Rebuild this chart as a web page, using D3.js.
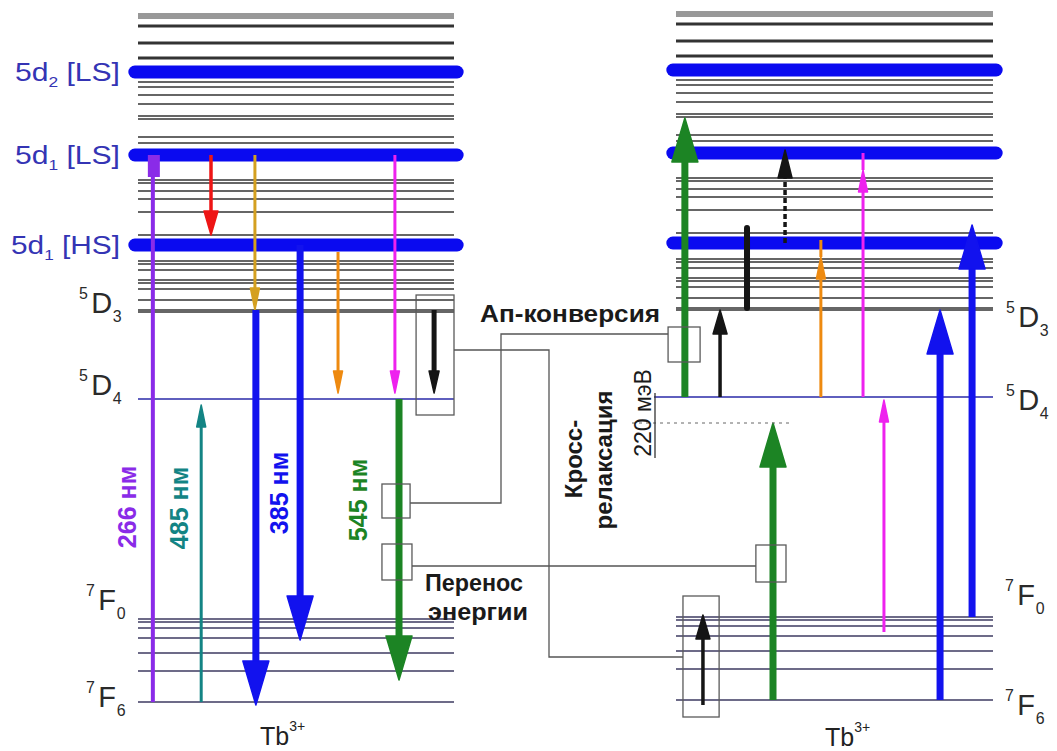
<!DOCTYPE html>
<html><head><meta charset="utf-8">
<script src="https://cdn.jsdelivr.net/npm/d3@7"></script>
<style>body{margin:0;background:#fff}svg{display:block}text{font-family:"Liberation Sans",Arial,sans-serif}</style>
</head><body><svg id="c" width="1057" height="751"></svg>
<script>
// ---------- data ----------
const levelEnergies = [688,686,684,676,659,644,620,615,607,598,586,583,565,559,522,519,511,503,490,467,441,438,432,422,419,413,402,392,390,303,83,80,74,64,49,31,0];
const bandEnergies = [630,547,457];
const bandNames = [["5d","2"," [LS]"],["5d","1"," [LS]"],["5d","1"," [HS]"]];
const termMult = ["5","5","7","7"];
const termL = ["D","D","F","F"];
const termJ = ["3","4","0","6"];
const termEnergies = [390,303,83,0];
const ionLabel = ["Tb","3+"];
// transitions: slot (0..100 across a panel), from / to energies, hue, kind
const leftTransitions = [
  {slot:4.7, from:547, to:0,   hue:"purple",  kind:"line"},
  {slot:23.1,from:547, to:467, hue:"red",     kind:"mid"},
  {slot:37,  from:547, to:392, hue:"gold",    kind:"bulb"},
  {slot:37.3,from:392, to:-3,  hue:"blue",    kind:"thick"},
  {slot:51.3,from:457, to:62,  hue:"blue",    kind:"thick"},
  {slot:63.3,from:450, to:309, hue:"orange",  kind:"bulb"},
  {slot:81.3,from:547, to:309, hue:"magenta", kind:"bulb"},
  {slot:82.6,from:303, to:22,  hue:"green",   kind:"thick"},
  {slot:20,  from:0,   to:297, hue:"teal",    kind:"bulb"},
  {slot:93.7,from:392, to:309, hue:"black",   kind:"bulbw"}
];
const rightTransitions = [
  {slot:2.8, from:303, to:582, hue:"green",   kind:"thick"},
  {slot:13.9,from:303, to:390, hue:"black",   kind:"mid"},
  {slot:22.4,from:392, to:472, hue:"black",   kind:"stub"},
  {slot:34.4,from:457, to:550, hue:"black",   kind:"dashed"},
  {slot:45.7,from:303, to:443, hue:"orange",  kind:"bulb", reach:460},
  {slot:59,  from:303, to:530, hue:"magenta", kind:"bulb", reach:547},
  {slot:65.6,from:68,  to:300, hue:"magenta", kind:"bulb"},
  {slot:30.6,from:0,   to:277, hue:"green",   kind:"thick"},
  {slot:83.3,from:0,   to:390, hue:"blue",    kind:"thick"},
  {slot:93.4,from:83,  to:475, hue:"blue",    kind:"thick"},
  {slot:8.5, from:-5,  to:85,  hue:"black",   kind:"mid"}
];
const wavelengthLabels = ["266 нм","485 нм","385 нм","545 нм"];
const wavelengthHues = ["purple","teal","blue","green"];
const crossRelaxGap = [303,277];
const gapLabel = "220 мэВ";
// boxes: panel, slot range, energy range
const boxes = [
  {panel:"L", s0:88,   s1:100,  eTop:407, eBot:287},
  {panel:"L", s0:77.2, s1:86.1, eTop:218, eBot:184},
  {panel:"L", s0:77.2, s1:86.7, eTop:158, eBot:122},
  {panel:"R", s0:-2.5, s1:7.6,  eTop:373, eBot:338},
  {panel:"R", s0:25.2, s1:34.7, eTop:155, eBot:118},
  {panel:"R", s0:2.2,  s1:13.6, eTop:104, eBot:-17}
];
const textUp = "Ап-конверсия";
const textTransfer = ["Перенос","энергии"];
const textCross = ["Кросс-","релаксация"];

// ---------- styles ----------
const palette = {purple:"#8a2be8", red:"#ee1515", gold:"#d4a020", orange:"#ee8a10", magenta:"#ee22ee",
  teal:"#138484", blue:"#1212ee", green:"#1c8424", black:"#151515"};
const kinds = {
  line:{w:4, hw:0, hl:0}, mid:{w:3.5, hw:14, hl:24}, bulb:{w:3, hw:9, hl:22}, bulbw:{w:5, hw:10, hl:22},
  thick:{w:7, hw:26, hl:44}, stub:{w:6, hw:0, hl:0}, dashed:{w:3.5, hw:14, hl:28, dash:"5,3"}
};

const svg = d3.select("#c");
const yL = d3.scaleLinear().domain([0,700]).range([702,2]);
const yR = d3.scaleLinear().domain([0,700]).range([700,0]);
const xL = d3.scaleLinear().domain([0,100]).range([138,454]);
const xR = d3.scaleLinear().domain([0,100]).range([676,993]);
const panels = {L:{x:xL,y:yL}, R:{x:xR,y:yR}};

function drawLevels(p) {
  const g = svg.append("g");
  g.selectAll("line").data(levelEnergies).join("line")
    .attr("x1", d => d===303 && p===panels.R ? 654 : p.x(0))
    .attr("x2", p.x(100))
    .attr("y1", d => p.y(d)).attr("y2", d => p.y(d))
    .attr("stroke", d => d===303 ? "#2a2aa8" : (d<100 ? "#3c3a60" : "#333"))
    .attr("stroke-width", d => (d>=644 && d<=676) ? 3 : (d>680 ? 1 : 1.3));
  g.selectAll("line.band").data(bandEnergies).join("line").attr("class","band")
    .attr("x1", p.x(-1)).attr("x2", p.x(101))
    .attr("y1", d => p.y(d)).attr("y2", d => p.y(d))
    .attr("stroke", "#0a0af0").attr("stroke-width", 13).attr("stroke-linecap","round");
}
drawLevels(panels.L);
drawLevels(panels.R);

function drawTransitions(p, data) {
  const g = svg.append("g");
  data.forEach(t => {
    const k = kinds[t.kind], c = palette[t.hue];
    const x = p.x(t.slot), y1 = p.y(t.from), y2 = p.y(t.to);
    const dir = Math.sign(y2 - y1);
    const yb = y2 - dir*k.hl;
    if (t.reach !== undefined) {
      g.append("line").attr("x1",x).attr("x2",x).attr("y1",y2).attr("y2",p.y(t.reach))
        .attr("stroke",c).attr("stroke-width",k.w);
    }
    g.append("line").attr("x1",x).attr("x2",x).attr("y1",y1).attr("y2", k.hl ? yb + dir*2 : y2)
      .attr("stroke",c).attr("stroke-width",k.w)
      .attr("stroke-linecap", t.kind==="stub" ? "round" : "butt")
      .attr("stroke-dasharray", k.dash || null);
    if (k.hl) {
      g.append("path").attr("d", `M${x-k.hw/2},${yb}L${x+k.hw/2},${yb}L${x},${y2}Z`)
        .attr("fill",c).attr("stroke",c).attr("stroke-width",1.5).attr("stroke-linejoin","round");
    }
    if (t.kind==="line") {
      g.append("rect").attr("x",x-5).attr("y",y1).attr("width",12).attr("height",22).attr("fill",c);
    }
  });
}
drawTransitions(panels.L, leftTransitions);
drawTransitions(panels.R, rightTransitions);

// boxes
const boxRects = boxes.map(b => {
  const p = panels[b.panel];
  return {x0:p.x(b.s0), x1:p.x(b.s1), y0:p.y(b.eTop), y1:p.y(b.eBot)};
});
svg.append("g").selectAll("rect").data(boxRects).join("rect")
  .attr("x",d=>d.x0).attr("y",d=>d.y0).attr("width",d=>d.x1-d.x0).attr("height",d=>d.y1-d.y0)
  .attr("fill","none").attr("stroke","#5a5a5a").attr("stroke-width",1.3);

// connectors
const B = boxRects;
const conn = svg.append("g").attr("fill","none").attr("stroke","#555").attr("stroke-width",1.3);
conn.append("path").attr("d",`M${B[0].x1},350H549V657H${B[5].x0}`);
conn.append("path").attr("d",`M${B[1].x1},503H501V334H${B[3].x0}`);
conn.append("path").attr("d",`M${B[2].x1},566H${B[4].x0}`);

// cross-relaxation gap
svg.append("line").attr("x1",632).attr("x2",790)
  .attr("y1",yR(crossRelaxGap[1])).attr("y2",yR(crossRelaxGap[1]))
  .attr("stroke","#666").attr("stroke-width",1).attr("stroke-dasharray","3,4");
svg.append("line").attr("x1",655).attr("x2",655).attr("y1",yR(crossRelaxGap[0])-4).attr("y2",458)
  .attr("stroke","#333").attr("stroke-width",1.3);

// band labels
const bandLabelX = [15,15,11];
const bandLabelLen = [105,105,109];
bandNames.forEach((n,i) => {
  const t = svg.append("text").attr("x",bandLabelX[i]).attr("y",yL(bandEnergies[i])+9)
    .attr("fill","#3434b4").attr("font-size",26)
    .attr("textLength",bandLabelLen[i]).attr("lengthAdjust","spacingAndGlyphs");
  t.append("tspan").text(n[0]);
  t.append("tspan").attr("font-size",15).attr("dy",6).text(n[1]);
  t.append("tspan").attr("dy",-6).text(n[2]);
});

// term labels
function term(xs, baseline, i, size) {
  const g = svg.append("g").attr("fill","#2a2a2a");
  g.append("text").attr("x",xs).attr("y",baseline-size*0.5).attr("font-size",size*0.55).text(termMult[i]);
  g.append("text").attr("x",xs+size*0.42).attr("y",baseline).attr("font-size",size).text(termL[i]);
  g.append("text").attr("x",xs+size*0.42+(termL[i]==="D"?size*0.74:size*0.64)).attr("y",baseline+size*0.3)
    .attr("font-size",size*0.55).text(termJ[i]);
}
const leftOff = [1,-4,-9,5], rightOff = [17,13,-12,15];
termEnergies.forEach((e,i) => {
  term(i<2 ? 79 : 86, yL(e)+leftOff[i], i, 29);
  term(i<2 ? 1006 : 1005, yR(e)+rightOff[i], i, 29);
});

// ion labels
[[260,745],[825,746]].forEach(([x,y]) => {
  const t = svg.append("text").attr("x",x).attr("y",y).attr("font-size",25).attr("fill","#222");
  t.append("tspan").text(ionLabel[0]);
  t.append("tspan").attr("font-size",14).attr("dy",-14).text(ionLabel[1]);
});

// wavelength labels (rotated)
const wlPos = [[136,507],[188,508],[288,493],[367,500]];
wavelengthLabels.forEach((s,i) => {
  svg.append("text").attr("transform",`translate(${wlPos[i][0]},${wlPos[i][1]}) rotate(-90)`)
    .attr("text-anchor","middle").attr("font-size",25).attr("font-weight","bold")
    .attr("fill",palette[wavelengthHues[i]]).text(s);
});

// annotation texts
svg.append("text").attr("x",480).attr("y",322).attr("font-size",24).attr("font-weight","bold")
  .attr("fill","#1a1a1a").attr("textLength",180).attr("lengthAdjust","spacingAndGlyphs").text(textUp);
svg.append("text").attr("x",425).attr("y",591).attr("font-size",23).attr("font-weight","bold")
  .attr("fill","#1a1a1a").attr("textLength",98).attr("lengthAdjust","spacingAndGlyphs").text(textTransfer[0]);
svg.append("text").attr("x",428).attr("y",620).attr("font-size",23).attr("font-weight","bold")
  .attr("fill","#1a1a1a").attr("textLength",100).attr("lengthAdjust","spacingAndGlyphs").text(textTransfer[1]);
svg.append("text").attr("transform","translate(582,459) rotate(-90)").attr("text-anchor","middle")
  .attr("font-size",24).attr("font-weight","bold").attr("fill","#1a1a1a").text(textCross[0]);
svg.append("text").attr("transform","translate(612,460) rotate(-90)").attr("text-anchor","middle")
  .attr("font-size",24).attr("font-weight","bold").attr("fill","#1a1a1a").text(textCross[1]);
svg.append("text").attr("transform","translate(651,413) rotate(-90)").attr("text-anchor","middle")
  .attr("font-size",23).attr("fill","#1a1a1a").text(gapLabel);
</script></body></html>
